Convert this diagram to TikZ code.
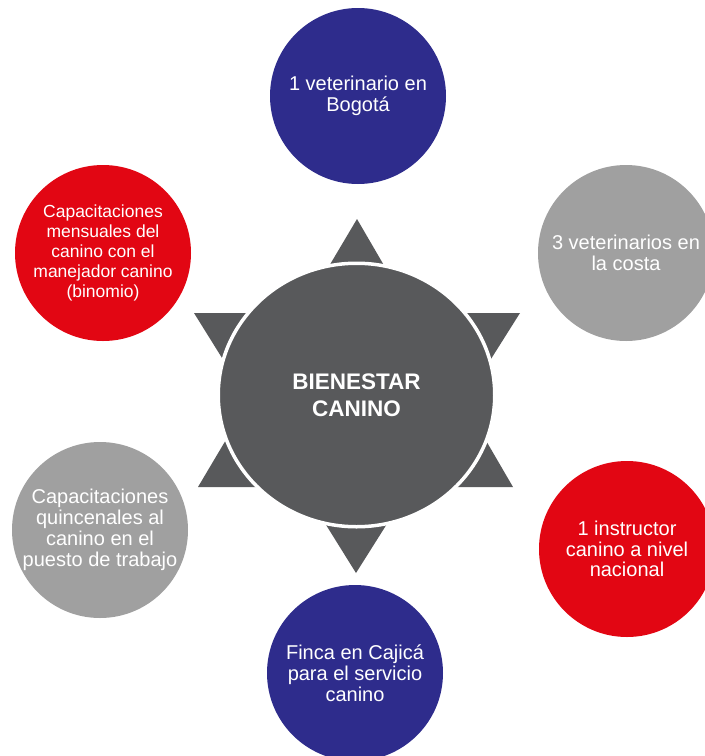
\documentclass[tikz,border=0pt]{standalone}
\usepackage{fontspec}
\setmainfont{Liberation Sans}
\usetikzlibrary{shapes.geometric}
\definecolor{bienblue}{RGB}{46,44,140}
\definecolor{bienred}{RGB}{226,6,19}
\definecolor{biengrey}{RGB}{160,160,160}
\definecolor{biendark}{RGB}{88,89,91}
\begin{document}
\begin{tikzpicture}[
  x=0.5pt, y=-0.5pt,
  every node/.style={align=center, text=white, font=\fontsize{10}{10.4}\selectfont},
  item/.style={circle, minimum size=88pt, inner sep=0pt},
  hub/.style={ellipse, fill=biendark, draw=white, line width=1.75pt,
    minimum width=138.25pt, minimum height=131.75pt, inner sep=0pt,
    font=\fontsize{11.25}{13.5}\selectfont\bfseries}
]
\useasboundingbox (0,0) rectangle (705,756);
% star behind the hub
\fill[biendark] (357,219) -- (198,487) -- (513,487) -- cycle;
\fill[biendark] (356,573) -- (194,313) -- (520,313) -- cycle;
\node[hub] (bienestar) at (356.5,395) {BIENESTAR\\CANINO};
% outer circles
\node[item, fill=bienblue] (vetbog) at (358,96) {1 veterinario en\\Bogotá};
\node[item, fill=biengrey] (vetcosta) at (626,253) {3 veterinarios en\\la costa};
\node[item, fill=bienred] (instructor) at (627,549) {1 instructor\\canino a nivel\\nacional};
\node[item, fill=bienblue] (finca) at (355,673) {Finca en Cajicá\\para el servicio\\canino};
\node[item, fill=biengrey] (quincenal) at (100,530) {Capacitaciones\\quincenales al\\canino en el\\puesto de trabajo};
\node[item, fill=bienred, font=\fontsize{8.75}{10}\selectfont] (mensual) at (103,253)
  {Capacitaciones\\mensuales del\\canino con el\\manejador canino\\(binomio)};
\end{tikzpicture}
\end{document}
